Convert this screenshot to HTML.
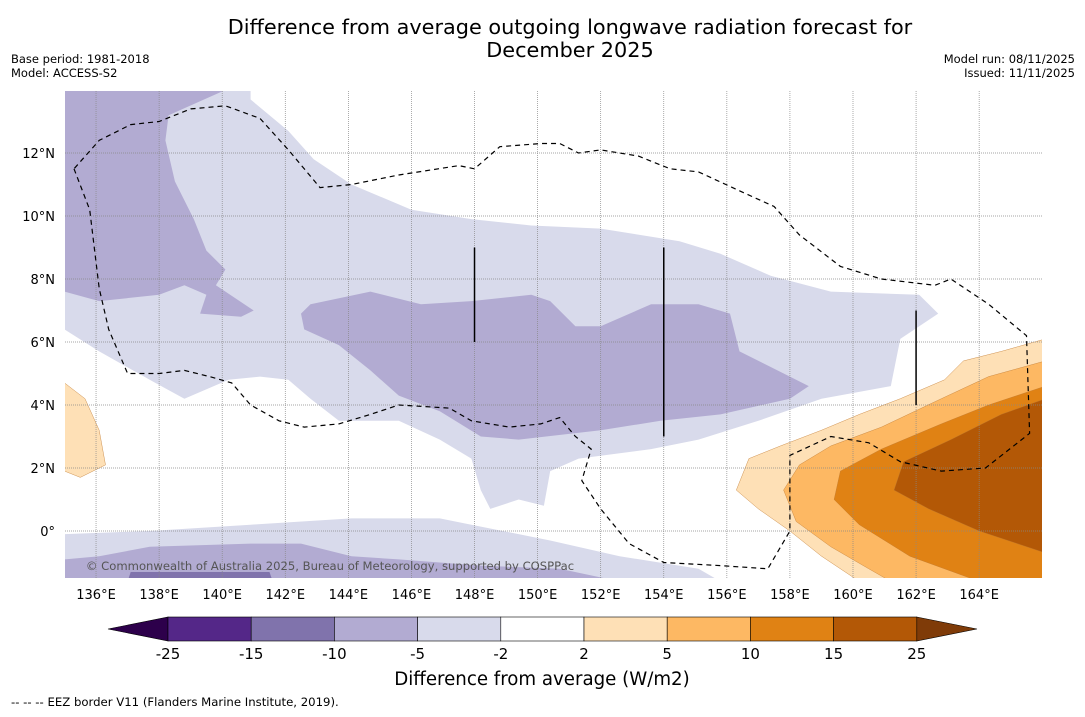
<!DOCTYPE html>
<html><head><meta charset="utf-8"><style>
body{margin:0;background:#fff;width:1085px;height:713px;overflow:hidden;font-family:"DejaVu Sans","Liberation Sans",sans-serif}
</style></head><body>
<svg id="chart" width="1085" height="713" xmlns="http://www.w3.org/2000/svg" font-family="DejaVu Sans, Liberation Sans, sans-serif">
<text x="570" y="34" font-size="20.8" text-anchor="middle">Difference from average outgoing longwave radiation forecast for</text>
<text x="570" y="57" font-size="20.8" text-anchor="middle">December 2025</text>
<text x="11" y="63" font-size="11.5">Base period: 1981-2018</text>
<text x="11" y="77" font-size="11.5">Model: ACCESS-S2</text>
<text x="1075" y="63" font-size="11.5" text-anchor="end">Model run: 08/11/2025</text>
<text x="1075" y="77" font-size="11.5" text-anchor="end">Issued: 11/11/2025</text>
<defs><clipPath id="mapclip"><rect x="65" y="91" width="977" height="487"/></clipPath></defs>
<g id="map" clip-path="url(#mapclip)"></g>
<g id="axes"></g>
<g id="cbar"></g>
<text x="542" y="685" font-size="18.2" text-anchor="middle">Difference from average (W/m2)</text>
<text x="11" y="706" font-size="11.7">--  --  -- EEZ border V11 (Flanders Marine Institute, 2019).</text>
</svg>
<script>
const lonTicks=[136,138,140,142,144,146,148,150,152,154,156,158,160,162,164];
const latTicks=[0,2,4,6,8,10,12];
const cbLevels=["-25","-15","-10","-5","-2","2","5","10","15","25"];
const cbColors=["#542788","#8073ac","#b2abd2","#d8daeb","#ffffff","#fee0b6","#fdb863","#e08214","#b35806"];
const lightPurple=[135,14,140.9,14,140.9,13.7,142.1,12.7,142.9,11.8,144.1,11.0,146.0,10.2,147.9,9.9,149.8,9.7,152.0,9.6,154.5,9.2,155.8,8.8,157.4,8.1,159.3,7.6,162.1,7.5,162.7,6.9,161.5,6.1,161.2,4.6,159.0,4.2,157.0,3.5,155.1,2.9,153.6,2.6,151.3,2.3,150.4,1.9,150.2,0.8,149.4,1.0,148.5,0.7,148.2,1.3,147.9,2.3,146.9,2.9,145.6,3.5,143.7,3.5,142.8,4.2,142.1,4.8,141.2,4.9,140.2,4.8,138.8,4.2,137.7,4.8,136.1,5.7,135,6.4];
const darkTopLeft=[135,14,140.1,14,138.3,13.2,138.2,12.4,138.5,11.1,139.1,9.9,139.5,8.9,140.1,8.3,139.8,7.8,141.0,7.0,140.6,6.8,139.3,6.9,139.5,7.5,138.8,7.8,138.0,7.5,136.1,7.3,135,7.6];
const darkMid=[142.5,6.9,142.8,7.2,144.7,7.6,146.3,7.2,147.9,7.3,149.8,7.5,150.4,7.3,151.2,6.5,152.0,6.5,153.6,7.2,155.1,7.2,156.1,6.9,156.4,5.7,158.6,4.6,158.0,4.2,155.8,3.7,153.9,3.5,152.0,3.2,149.4,2.9,148.2,3.0,146.9,3.8,145.6,4.3,144.7,5.1,143.7,5.9,142.6,6.4];
const lightBottom=[135,-0.1,137.7,0.0,140.9,0.2,144.1,0.4,146.9,0.4,147.9,0.2,150.4,-0.3,152.6,-0.8,155.1,-1.2,155.8,-1.6,135,-1.6];
const darkBottom=[135,-0.9,136.1,-0.8,137.7,-0.5,140.9,-0.4,142.5,-0.4,144.1,-0.8,145.6,-0.9,148.2,-1.1,150.7,-1.2,152.6,-1.6,135,-1.6];
const darkerBottom=[137.1,-1.3,141.5,-1.3,141.6,-1.6,137.0,-1.6];
const leftOrange=[135,4.7,135.65,4.2,136.1,3.2,136.3,2.1,135.5,1.7,135,1.9];
const orange2=[166.1,6.1,164.7,5.7,163.5,5.4,162.9,4.8,161.5,4.2,160.2,3.7,159.0,3.2,157.7,2.7,156.7,2.3,156.3,1.3,157.0,0.7,158.0,0.0,159.0,-0.8,160.2,-1.6,166.1,-1.6];
const orange5=[166.1,5.4,164.3,4.9,162.8,4.2,160.9,3.3,159.3,2.7,158.3,2.1,157.8,1.3,158.2,0.3,159.3,-0.5,160.5,-1.2,161.2,-1.6,166.1,-1.6];
const orange10=[166.1,4.6,164.3,4.0,162.8,3.4,160.9,2.6,159.6,1.9,159.4,1.0,160.2,0.2,161.8,-0.8,164.0,-1.6,166.1,-1.6];
const orange15=[166.1,4.2,164.7,3.7,163.1,2.9,161.6,2.2,161.3,1.3,162.4,0.7,164.0,0.0,166.1,-0.7];
const eez=[135.3,11.5,135.8,10.2,136.1,7.7,136.4,6.4,137.0,5.0,138.0,5.0,138.8,5.1,139.6,4.9,140.3,4.7,140.9,4.0,141.8,3.5,142.6,3.3,143.7,3.4,144.7,3.7,145.6,4.0,147.2,3.9,147.9,3.5,149.1,3.3,150.1,3.4,150.7,3.6,151.2,3.0,151.7,2.6,151.4,1.6,152.0,0.7,152.9,-0.4,154.0,-1.0,155.8,-1.1,157.3,-1.2,158.0,0.0,158.0,2.4,159.3,3.0,160.5,2.8,161.5,2.2,162.8,1.9,164.2,2.0,165.6,3.1,165.5,6.2,164.3,7.2,163.1,8.0,162.6,7.8,160.9,8.0,159.6,8.4,158.3,9.4,157.5,10.3,156.4,10.8,155.1,11.4,154.2,11.5,153.2,11.9,152.0,12.1,151.3,12.0,150.7,12.3,150.1,12.3,148.8,12.2,148.0,11.5,147.5,11.6,145.6,11.3,144.1,11.0,143.1,10.9,142.1,12.1,141.2,13.1,140.1,13.5,139.0,13.4,138.0,13.0,137.1,12.9,136.1,12.4,135.3,11.5];
const segLons=[148,154,162];
const segLat0=[6,3,4];
const segLat1=[9,9,7];

const NS="http://www.w3.org/2000/svg";
const X=lon=>64.5+(lon-135)*31.54;
const Y=lat=>531-lat*31.5;
function mk(tag,attrs,parent){const e=document.createElementNS(NS,tag);for(const k in attrs)e.setAttribute(k,attrs[k]);parent.appendChild(e);return e;}
const map=document.getElementById('map'),axes=document.getElementById('axes'),cbar=document.getElementById('cbar');
function pts(a){let s=[];for(let i=0;i<a.length;i+=2)s.push(X(a[i]).toFixed(1)+','+Y(a[i+1]).toFixed(1));return s.join(' ');}
mk('rect',{x:65,y:91,width:977,height:487,fill:'#fff'},map);
const layers=[[lightPurple,'#d8daeb','light-purple-region'],[darkTopLeft,'#b2abd2','purple-region-northwest'],[darkMid,'#b2abd2','purple-region-central'],[lightBottom,'#d8daeb','light-purple-region-south'],[darkBottom,'#b2abd2','purple-region-south'],[darkerBottom,'#8073ac','dark-purple-region-south'],[leftOrange,'#fee0b6','orange-region-west'],[orange2,'#fee0b6','orange-2-5-region'],[orange5,'#fdb863','orange-5-10-region'],[orange10,'#e08214','orange-10-15-region'],[orange15,'#b35806','orange-15-25-region']];
layers.forEach(l=>{const warm=['#fee0b6','#fdb863','#e08214','#b35806'].includes(l[1]);
const p=mk('polygon',{points:pts(l[0]),fill:l[1],stroke:warm?'#c07a30':'none','stroke-width':0.4},map);

});
lonTicks.forEach(v=>{mk('line',{x1:X(v),x2:X(v),y1:91,y2:578,stroke:'#888','stroke-width':0.7,'stroke-dasharray':'1,1'},map);
const t=mk('text',{x:X(v),y:599,'font-size':13,'text-anchor':'middle'},axes);t.textContent=v+'°E';

});
latTicks.forEach(v=>{mk('line',{x1:65,x2:1042,y1:Y(v),y2:Y(v),stroke:'#888','stroke-width':0.7,'stroke-dasharray':'1,1'},map);
const t=mk('text',{x:55,y:Y(v)+5,'font-size':13,'text-anchor':'end'},axes);t.textContent=v===0?'0°':v+'°N';

});
const ez=mk('polyline',{points:pts(eez),fill:'none',stroke:'#000','stroke-width':1.2,'stroke-dasharray':'5,4'},map);


segLons.forEach((v,i)=>{const s=mk('line',{x1:X(v),x2:X(v),y1:Y(segLat0[i]),y2:Y(segLat1[i]),stroke:'#000','stroke-width':1.5},map);

});
const cp=mk('text',{x:330,y:570,'font-size':11.6,fill:'#555','text-anchor':'middle'},map);cp.textContent='© Commonwealth of Australia 2025, Bureau of Meteorology, supported by COSPPac';


const cx0=168,cw=83.2,cy=617,ch=24;
const lt=mk('polygon',{points:`108,629 ${cx0},${cy} ${cx0},${cy+ch}`,fill:'#2d004b',stroke:'#000','stroke-width':0.6},cbar);


cbColors.forEach((c,i)=>{const r=mk('rect',{x:cx0+i*cw,y:cy,width:cw,height:ch,fill:c,stroke:'#000','stroke-width':0.6},cbar);

});
const xe=cx0+cbColors.length*cw;
const rt=mk('polygon',{points:`${xe},${cy} 977,629 ${xe},${cy+ch}`,fill:'#7f3b08',stroke:'#000','stroke-width':0.6},cbar);


cbLevels.forEach((v,i)=>{const t=mk('text',{x:cx0+i*cw,y:659,'font-size':15,'text-anchor':'middle'},cbar);t.textContent=v;

});
</script>
</body></html>
